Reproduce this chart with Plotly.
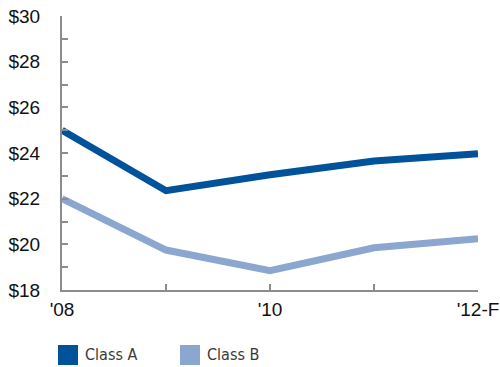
import plotly.graph_objects as go

years = [2008, 2009, 2010, 2011, 2012]
class_a = [25.0, 22.35, 23.05, 23.65, 23.97]
class_b = [22.0, 19.75, 18.85, 19.85, 20.25]
x_tick_vals = [2008, 2010, 2012]
x_tick_text = ["'08", "'10", "'12-F"]
y_tick_vals = [18, 20, 22, 24, 26, 28, 30]
y_tick_text = ["$18", "$20", "$22", "$24", "$26", "$28", "$30"]
series_names = ["Class A", "Class B"]
series_colors = ["#00539B", "#8BA6CF"]

fig = go.Figure()
for name, vals, col in zip(series_names, [class_a, class_b], series_colors):
    fig.add_trace(go.Scatter(x=years, y=vals, mode="lines", name=name,
                             line=dict(color=col, width=7), showlegend=False))

axis_gray = "#8c8c8c"
tick_font = dict(family="Liberation Sans, Arial", size=19, color="#111")
fig.update_xaxes(range=[2008, 2012], tickmode="array", tickvals=x_tick_vals,
                 ticktext=x_tick_text, ticks="inside", ticklen=6, tickwidth=2,
                 tickcolor=axis_gray, showline=True, linecolor=axis_gray, linewidth=2,
                 showgrid=False, zeroline=False, automargin=False, ticklabelstandoff=1,
                 minor=dict(tickmode="array", tickvals=years, ticks="inside", ticklen=6,
                            tickwidth=2, tickcolor=axis_gray, showgrid=False),
                 tickfont=tick_font)
fig.update_yaxes(range=[18, 30], tickmode="array", tickvals=y_tick_vals,
                 ticktext=y_tick_text, ticks="inside", ticklen=6, tickwidth=2,
                 tickcolor=axis_gray, showline=True, linecolor=axis_gray, linewidth=2,
                 showgrid=False, zeroline=False, ticklabelstandoff=16, automargin=False,
                 minor=dict(dtick=1, ticks="inside", ticklen=6, tickwidth=2,
                            tickcolor=axis_gray, showgrid=False),
                 tickfont=tick_font)

# Legend drawn as coloured squares with labels below the plot
legend_x = [58, 180]
for (lx, name, col) in zip(legend_x, series_names, series_colors):
    fig.add_shape(type="rect", xref="paper", yref="paper",
                  x0=(lx - 62) / 416, x1=(lx + 20 - 62) / 416,
                  y0=(290 - 365) / 274, y1=(290 - 345) / 274,
                  fillcolor=col, line=dict(width=0))
    fig.add_annotation(xref="paper", yref="paper", x=(lx + 25 - 62) / 416,
                       y=(290 - 355) / 274, text=name, showarrow=False,
                       xanchor="left", yanchor="middle",
                       font=dict(family="DejaVu Sans Condensed, Liberation Sans", size=16,
                                 color="#3a3a3a"))

fig.update_layout(width=500, height=367, margin=dict(l=62, r=22, t=16, b=77),
                  plot_bgcolor="white", paper_bgcolor="white", showlegend=False)

fig.write_html("out.html")
